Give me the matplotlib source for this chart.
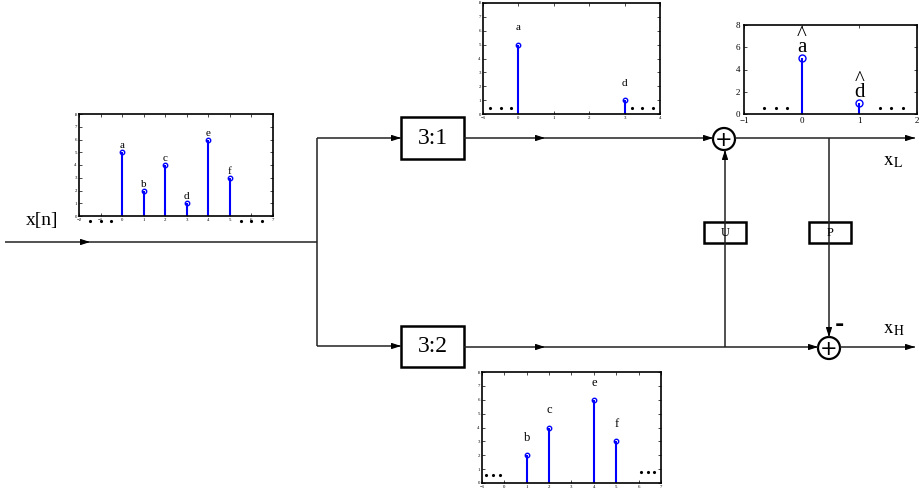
#!/usr/bin/env python3
import matplotlib
matplotlib.use("Agg")
import matplotlib.pyplot as plt
from matplotlib.patches import Rectangle, Circle

plt.rcParams['font.family'] = ['Liberation Serif', 'DejaVu Serif']
plt.rcParams['mathtext.fontset'] = 'stix'

W, H = 920, 496

# signal x[n]
x_n = [0, 1, 2, 3, 4, 5]
x_vals = [5, 2, 4, 1, 6, 3]
x_labels = ['a', 'b', 'c', 'd', 'e', 'f']

# 3:1 branch
low_n = [0, 3]
low_vals = [5, 1]
low_labels = ['a', 'd']

# after update
upd_n = [0, 1]
upd_vals = [5, 1]
upd_labels = ['^\na', '^\nd']

# 3:2 branch
high_n = [1, 2, 4, 5]
high_vals = [2, 4, 6, 3]
high_labels = ['b', 'c', 'e', 'f']

LINE = '#222222'

fig = plt.figure(figsize=(W / 100, H / 100), dpi=100)
ax = fig.add_axes([0, 0, 1, 1])
ax.set_xlim(0, W)
ax.set_ylim(H, 0)
ax.axis('off')


def seg(x0, y0, x1, y1):
    ax.plot([x0, x1], [y0, y1], color=LINE, lw=1.1, solid_capstyle='butt')


def head(x, y, dx, dy):
    ax.annotate('', xy=(x, y), xytext=(x - dx, y - dy),
                arrowprops=dict(arrowstyle='-|>,head_length=0.55,head_width=0.18',
                                color='black', lw=0.8, shrinkA=0, shrinkB=0))


def box(x0, y0, x1, y1, label, fs):
    ax.add_patch(Rectangle((x0, y0), x1 - x0, y1 - y0, fill=False,
                           ec='black', lw=1.8))
    ax.text((x0 + x1) / 2, (y0 + y1) / 2, label, ha='center', va='center',
            fontsize=fs)


def adder(x, y):
    ax.add_patch(Circle((x, y), 11, fill=False, ec='black', lw=1.6))
    ax.text(x, y + 1, '+', ha='center', va='center', fontsize=15,
            family='DejaVu Sans')


# input and split
seg(5, 242, 317, 242)
head(90, 242, 8, 0)
ax.text(42, 221, 'x[n]', ha='center', va='center', fontsize=14)
seg(317, 138, 317, 346)

# top branch
seg(317, 138, 401, 138)
head(401, 138, 8, 0)
box(401, 117, 464, 159, '3:1', 17)
seg(464, 138, 713, 138)
head(545, 138, 8, 0)
head(713, 138, 8, 0)
adder(724, 139)
seg(735, 138, 915, 138)
head(915, 138, 8, 0)
ax.text(883, 162, r'$\mathrm{x}_{\mathrm{L}}$', ha='left', va='center', fontsize=14)

# bottom branch
seg(317, 346, 401, 346)
head(401, 346, 8, 0)
box(401, 326, 464, 367, '3:2', 17)
seg(464, 347, 818, 347)
head(545, 347, 8, 0)
head(818, 347, 8, 0)
adder(829, 348)
seg(840, 347, 915, 347)
head(915, 347, 8, 0)
ax.text(883, 329, r'$\mathrm{x}_{\mathrm{H}}$', ha='left', va='center', fontsize=14)

# update and predict
seg(725, 347, 725, 150)
head(725, 150, 0, -8)
box(704, 222, 746, 243, 'U', 9)
seg(829, 138, 829, 337)
head(829, 337, 0, 8)
box(809, 222, 851, 243, 'P', 9)
ax.text(839, 325, '-', ha='center', va='center', fontsize=16,
        family='DejaVu Sans', fontweight='bold')


def inset(l, t, r, b):
    a = fig.add_axes([l / W, 1 - b / H, (r - l) / W, (b - t) / H])
    a.tick_params(direction='in', top=True, right=True, length=2, width=0.5,
                  pad=1.5)
    for s in a.spines.values():
        s.set_linewidth(1.2)
    return a


def stems(a, n, vals, labels, fs, dy, ms=3.2, ls=1.2):
    ml, sl, bl = a.stem(n, vals, linefmt='b-', markerfmt='bo', basefmt=' ')
    ml.set_markerfacecolor('none')
    ml.set_markersize(ms)
    ml.set_markeredgewidth(1.0)
    sl.set_linewidth(1.5)
    for xi, yi, lab in zip(n, vals, labels):
        a.text(xi, yi + dy, lab, ha='center', va='bottom', fontsize=fs,
               linespacing=ls, multialignment='center')


# input plot
a1 = inset(79, 114, 273, 216)
stems(a1, x_n, x_vals, x_labels, 8, 0.15)
a1.set_xlim(-2, 7)
a1.set_ylim(0, 8)
a1.set_xticks(range(-2, 8))
a1.set_yticks(range(0, 9))
a1.tick_params(labelsize=3.5)
a1.plot([-1.5, -1, -0.5, 5.5, 6, 6.5], [-0.4] * 6, 'k.', ms=2.5, clip_on=False)

# 3:1 plot
a2 = inset(483, 3, 660, 114)
stems(a2, low_n, low_vals, low_labels, 8, 0.9)
a2.set_xlim(-1, 4)
a2.set_ylim(0, 8)
a2.set_xticks(range(-1, 5))
a2.set_yticks(range(0, 9))
a2.tick_params(labelsize=3.5)
a2.plot([-0.8, -0.5, -0.2, 3.2, 3.5, 3.8], [0.4] * 6, 'k.', ms=2.5)

# updated plot
a3 = inset(744, 25, 917, 114)
stems(a3, upd_n, upd_vals, upd_labels, 15, 0.1, ms=5, ls=0.5)
a3.set_xlim(-1, 2)
a3.set_ylim(0, 8)
a3.set_xticks(range(-1, 3))
a3.set_yticks(range(0, 9, 2))
a3.tick_params(labelsize=6.5, pad=2.5)
a3.plot([-0.65, -0.45, -0.25, 1.35, 1.55, 1.75], [0.55] * 6, 'k.', ms=2.5)

# 3:2 plot
a4 = inset(482, 372, 661, 483)
stems(a4, high_n, high_vals, high_labels, 9, 0.8)
a4.set_xlim(-1, 7)
a4.set_ylim(0, 8)
a4.set_xticks(range(-1, 8))
a4.set_yticks(range(0, 9))
a4.tick_params(labelsize=3.5)
a4.plot([-0.8, -0.5, -0.2], [0.6] * 3, 'k.', ms=2.5)
a4.plot([6.1, 6.4, 6.7], [0.8] * 3, 'k.', ms=2.5)

fig.savefig('out.png', dpi=100)
